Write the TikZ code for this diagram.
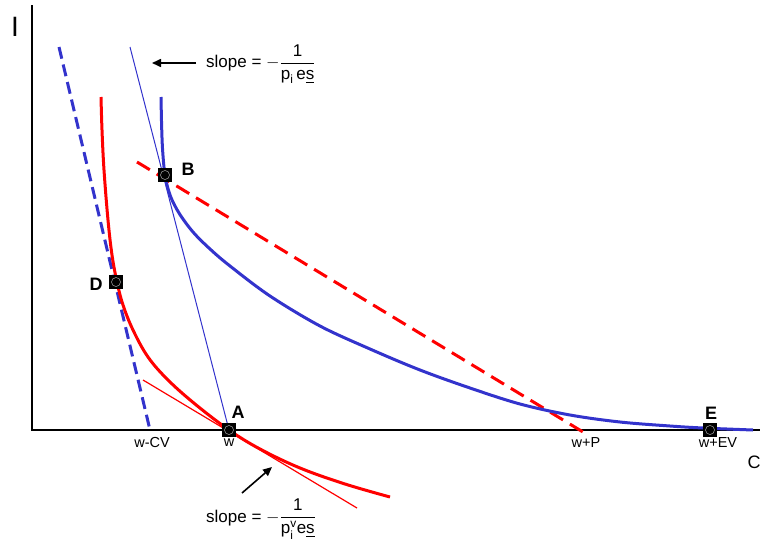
\documentclass[tikz,border=0pt]{standalone}
\usepackage{amsmath}
\usepackage{fontspec}
\setmainfont{Liberation Sans}
\usetikzlibrary{arrows.meta}
\definecolor{icblue}{RGB}{51,51,204}
\definecolor{icred}{RGB}{255,0,0}
\begin{document}
\begin{tikzpicture}[x=1pt,y=-1pt,
  axisline/.style={black,line width=1.3pt},
  thickcurve/.style={line width=3pt},
  thinline/.style={line width=1pt},
  bluedash/.style={icblue,line width=3pt,dash pattern=on 12pt off 6pt},
  reddash/.style={icred,line width=3pt,dash pattern=on 15pt off 8pt},
  marker/.style={fill=black,minimum size=14pt,inner sep=0pt,
    path picture={\draw[gray!70,line width=0.5pt] (path picture bounding box.center) circle (4.5pt);}},
  ptlabel/.style={font=\fontsize{18}{20}\selectfont\bfseries},
  axlabel/.style={font=\fontsize{14.5}{16}\selectfont},
  slopetext/.style={font=\fontsize{17}{19}\selectfont,anchor=west,inner sep=0pt},
  pointer/.style={black,line width=1.6pt,-{Triangle[length=9pt,width=8pt]}}
]
\useasboundingbox (0,0) rectangle (762,546);

% axes
\coordinate (O) at (32,430);
\coordinate (ytop) at (32,5);
\coordinate (xend) at (760,430);
\draw[axisline] (ytop) -- (O) -- (xend);
\node[font=\fontsize{28}{30}\selectfont] (Ilab) at (15,27) {I};
\node[font=\fontsize{18}{20}\selectfont] (Clab) at (754,462) {C};

% straight lines
\coordinate (bd1) at (59,47);  \coordinate (bd2) at (150,430);
\coordinate (tb1) at (130,47); \coordinate (tb2) at (229,430);
\coordinate (rd1) at (137,162); \coordinate (rd2) at (583,432);
\coordinate (tr1) at (143,380); \coordinate (tr2) at (357,508);
\draw[bluedash] (bd1) -- (bd2);
\draw[icblue,thinline] (tb1) -- (tb2);
\draw[reddash] (rd1) -- (rd2);
\draw[icred,line width=1.2pt] (tr1) -- (tr2);

% indifference curves
\draw[icblue,thickcurve] plot[smooth,tension=0.55] coordinates {
 (161,97) (161.6,125) (162.6,150) (165,175) (170,195) (179,213) (193,232)
 (210,249) (230,266) (270,296) (320,326) (370,349) (420,370) (470,388)
 (520,404) (570,415) (620,422) (670,426) (703,428) (753,430)};
\draw[icred,thickcurve] plot[smooth,tension=0.6] coordinates {
 (101,97) (102,130) (104,170) (108,220) (112,255) (117,282) (123,305)
 (133,330) (148,357) (168,380) (195,404) (229,430) (260,449) (300,468)
 (345,484) (390,497)};

% markers
\node[marker] (A) at (229,430) {};
\node[marker] (B) at (165,175) {};
\node[marker] (D) at (116,282) {};
\node[marker] (E) at (710,430) {};
\node[ptlabel] (Alab) at (238,412) {A};
\node[ptlabel] (Blab) at (188,169) {B};
\node[ptlabel] (Dlab) at (96,284) {D};
\node[ptlabel] (Elab) at (711,413) {E};

% axis value labels
\node[axlabel] (wcv) at (152,443) {w-CV};
\node[axlabel] (w) at (229,443) {w};
\node[axlabel] (wp) at (586,443) {w+P};
\node[axlabel] (wev) at (718,443) {w+EV};

% slope annotations
\node[slopetext] (s1) at (206,64) {slope = $-\dfrac{\text{1}}{\text{p}_{\text{i}}\,\text{e}\underline{\text{s}}}$};
\coordinate (a1s) at (196,63); \coordinate (a1e) at (152,63);
\draw[pointer] (a1s) -- (a1e);
\node[slopetext] (s2) at (206,519) {slope = $-\dfrac{\text{1}}{\text{p}_{\text{i}}^{\text{v}}\text{e}\underline{\text{s}}}$};
\coordinate (a2s) at (242,493); \coordinate (a2e) at (272,467);
\draw[pointer] (a2s) -- (a2e);
\end{tikzpicture}
\end{document}
